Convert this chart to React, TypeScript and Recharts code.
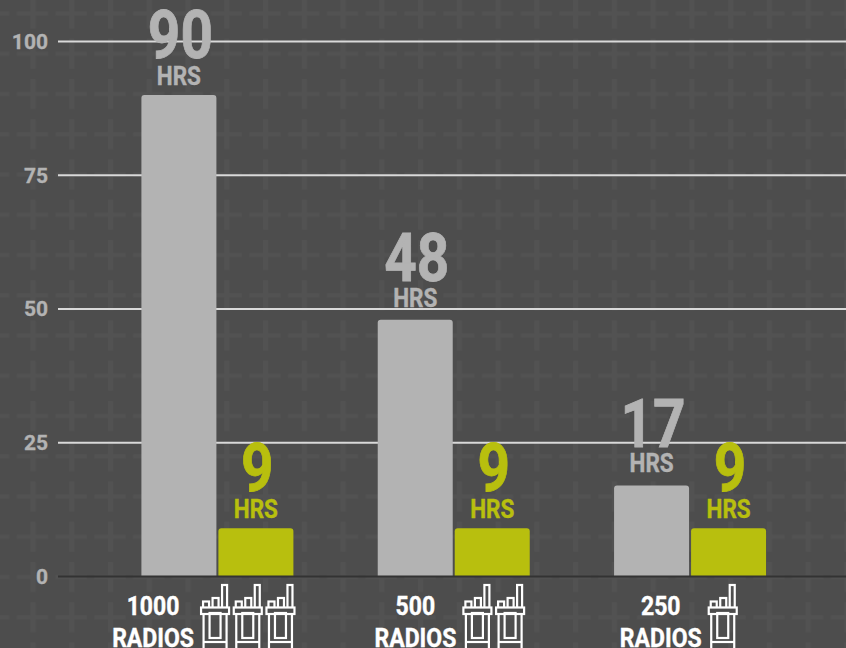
import { BarChart, Bar, XAxis, YAxis, CartesianGrid, LabelList } from 'recharts'

const categories = ['1000', '500', '250']
const radioCounts = [3, 2, 1]
const legacyHours = [90, 48, 17]
const newHours = [9, 9, 9]
const yTicks = [0, 25, 50, 75, 100]
const gridValues = [25, 50, 75, 100]

const data = categories.map((c, i) => ({
  name: c,
  legacy: legacyHours[i],
  next: newHours[i],
  radios: radioCounts[i],
}))

const GRAY = '#b3b3b3'
const LIME = '#b8bf0e'
const FONT = 'Roboto, sans-serif'

// where the radio icons start, relative to the category centre
const iconStart: Record<number, number> = { 3: -17, 2: 9, 1: 18 }
// the labels were placed by hand in the original, short bars sit a bit higher
const labelLift: Record<number, number> = { 90: 0, 48: 3, 17: 4, 9: 0 }

function RadioIcon({ x, y }: { x: number; y: number }) {
  return (
    <g transform={`translate(${x},${y})`} fill="none" stroke="#fff" strokeWidth={2.2}>
      <rect x={21.5} y={1} width={5} height={23} />
      <rect x={12} y={14} width={6} height={10} />
      <rect x={2.5} y={17.5} width={6} height={6.5} />
      <rect x={0.5} y={23.5} width={28} height={6.5} fill="#4d4d4d" />
      <path d="M3 30 V66 H26 V30" />
      <rect x={9} y={29} width={11} height={25} />
      <path d="M3 58 H26" />
    </g>
  )
}

function RadioTick({ x, y, payload }: any) {
  const count = radioCounts[categories.indexOf(payload.value)]
  const start = x + iconStart[count]
  const textX = start - 47.5
  return (
    <g fontFamily={FONT} fontWeight={700} fontSize={25} fill="#fff" stroke="#fff" strokeWidth={0.4} textAnchor="middle">
      <text transform={`translate(${textX},${y + 38}) scale(0.92,1)`}>{payload.value}</text>
      <text transform={`translate(${textX},${y + 70}) scale(0.92,1)`}>RADIOS</text>
      {Array.from({ length: count }).map((_, i) => (
        <RadioIcon key={i} x={start + i * 32.7} y={y + 7.5} />
      ))}
    </g>
  )
}

function HoursLabel({ x, y, width, value, fill }: any) {
  const cx = x + width / 2
  const lift = labelLift[value] ?? 0
  return (
    <g fontFamily={FONT} fontWeight={700} fill={fill} stroke={fill} textAnchor="middle">
      <text
        transform={`translate(${cx + 1.5},${y - 37 - lift / 2}) scale(0.86,1)`}
        fontSize={66}
        strokeWidth={0.8}
      >
        {value}
      </text>
      <text transform={`translate(${cx},${y - 10 - lift}) scale(0.9,1)`} fontSize={25} strokeWidth={0.4}>
        HRS
      </text>
    </g>
  )
}

function Backdrop() {
  return (
    <svg width={846} height={648} style={{ position: 'absolute', left: 0, top: 0 }}>
      <defs>
        <pattern id="plus" patternUnits="userSpaceOnUse" x={13.5} y={-6.5} width={38.76} height={40.25}>
          <rect x={3.5} y={18} width={31} height={4} fill="#525252" />
          <rect x={17} y={5} width={5} height={30} fill="#525252" />
        </pattern>
      </defs>
      <rect width={846} height={648} fill="#4d4d4d" />
      <rect width={846} height={648} fill="url(#plus)" />
    </svg>
  )
}

export default function App() {
  return (
    <div style={{ position: 'absolute', left: 0, top: 0, width: 846, height: 648, overflow: 'hidden' }}>
      <Backdrop />
      <div style={{ position: 'absolute', left: 0, top: 0 }}>
        <BarChart
          width={846}
          height={648}
          data={data}
          barSize={75}
          barGap={2}
          margin={{ top: 41.5, right: 0, left: 0, bottom: 0 }}
        >
          <CartesianGrid
            horizontal
            vertical={false}
            horizontalValues={gridValues}
            stroke="#d9d9d9"
            strokeWidth={2}
          />
          <XAxis
            dataKey="name"
            height={71.5}
            interval={0}
            padding={{ left: 41.4, right: 37.6 }}
            axisLine={{ stroke: '#333333', strokeWidth: 2 }}
            tickLine={false}
            tickSize={0}
            tickMargin={0}
            tick={RadioTick}
          />
          <YAxis
            width={58}
            domain={[0, 100]}
            ticks={yTicks}
            axisLine={false}
            tickLine={false}
            tickMargin={4}
            tick={{ fill: GRAY, stroke: GRAY, strokeWidth: 0.3, fontFamily: FONT, fontWeight: 700, fontSize: 21 }}
          />
          <Bar dataKey="legacy" fill={GRAY} radius={[3, 3, 0, 0]} isAnimationActive={false}>
            <LabelList dataKey="legacy" content={(p: any) => <HoursLabel {...p} fill={GRAY} />} />
          </Bar>
          <Bar dataKey="next" fill={LIME} radius={[3, 3, 0, 0]} isAnimationActive={false}>
            <LabelList dataKey="next" content={(p: any) => <HoursLabel {...p} fill={LIME} />} />
          </Bar>
        </BarChart>
      </div>
    </div>
  )
}
